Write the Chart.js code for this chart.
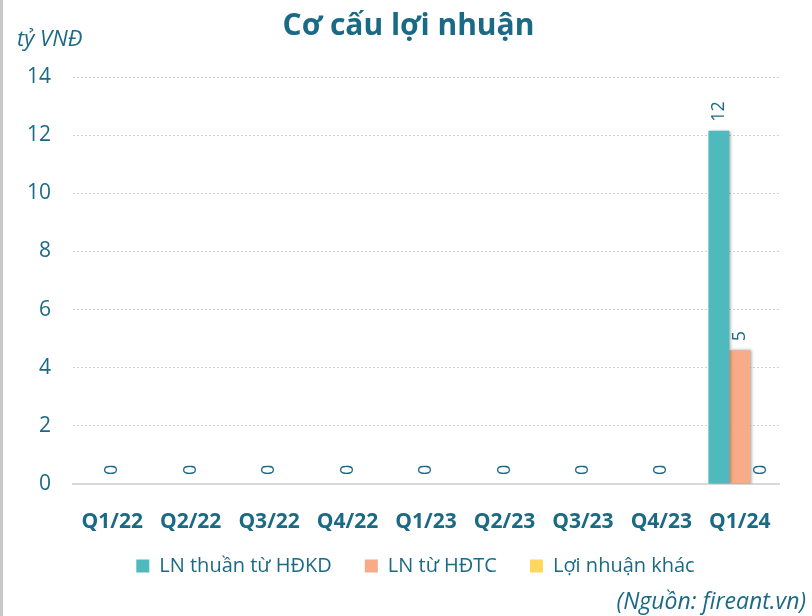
<!DOCTYPE html>
<html><head><meta charset="utf-8">
<script src="https://cdn.jsdelivr.net/npm/chart.js@4/dist/chart.umd.min.js"></script>
<style>
html,body{margin:0;padding:0;background:#fff;}
#wrap{position:relative;width:812px;height:616px;overflow:hidden;}
#wrap:before{content:"";position:absolute;left:0;top:0;width:3px;height:616px;background:#c8c8c8;}
#unit{position:absolute;left:17px;top:23px;font:italic 22px "Open Sans",sans-serif;color:#1b6a85;line-height:1.35;}
#src{position:absolute;right:6px;top:585px;font:italic 23px "Open Sans",sans-serif;color:#1b6a85;line-height:1.35;}
</style></head>
<body><div id="wrap"><canvas id="c" width="812" height="616"></canvas>
<div id="unit">tỷ VNĐ</div><div id="src">(Nguồn: fireant.vn)</div></div>
<script>
const categories = ["Q1/22","Q2/22","Q3/22","Q4/22","Q1/23","Q2/23","Q3/23","Q4/23","Q1/24"];
const lnHDKD = [0,0,0,0,0,0,0,0,12.15];
const lnHDTC = [0,0,0,0,0,0,0,0,4.6];
const lnKhac = [0,0,0,0,0,0,0,0,0];
const yTicks = [0,2,4,6,8,10,12,14];
const TXT = "#1b6a85";
const FONT = "'Open Sans', sans-serif";

const shadowPlugin = {
  id:'shadow',
  beforeDatasetsDraw(chart){const c=chart.ctx;c.save();c.shadowColor='rgba(0,0,0,0.35)';c.shadowOffsetX=2;c.shadowOffsetY=0;c.shadowBlur=3;},
  afterDatasetsDraw(chart){chart.ctx.restore();}
};
const boxShift = {
  id:'boxShift',
  afterLayout(chart){
    const L=chart.legend; if(L){L.left+=26;L.right+=26;L.top-=8;L.bottom-=8;}
    const T=chart.titleBlock; if(T){T.left+=19;T.right+=19;}
  }
};
const labelPlugin = {
  id:'vlabels',
  afterDatasetsDraw(chart){
    const c=chart.ctx; const ds=chart.data.datasets;
    c.save(); c.fillStyle=TXT; c.font="18px "+FONT; c.textAlign='left'; c.textBaseline='middle';
    for(let i=0;i<chart.data.labels.length;i++){
      const allZero = ds.every(d=>d.data[i]===0);
      ds.forEach((d,k)=>{
        const v=d.data[i];
        if(allZero && k!==1) return;
        const el=chart.getDatasetMeta(k).data[i];
        c.save(); c.translate(el.x, el.y-9); c.rotate(-Math.PI/2);
        c.fillText(String(Math.round(v)),0,0); c.restore();
      });
    }
    c.restore();
  }
};

function draw(){
new Chart(document.getElementById('c'),{
  type:'bar',
  data:{labels:categories,datasets:[
    {label:'LN thuần từ HĐKD',data:lnHDKD,backgroundColor:'#4fbabd'},
    {label:'LN từ HĐTC',data:lnHDTC,backgroundColor:'#f7ab86'},
    {label:'Lợi nhuận khác',data:lnKhac,backgroundColor:'#ffd75e'}
  ]},
  plugins:[shadowPlugin,labelPlugin,boxShift],
  options:{
    responsive:false,animation:false,
    layout:{padding:{left:0,right:33,top:0,bottom:22}},
    datasets:{bar:{categoryPercentage:0.8,barPercentage:1.0}},
    plugins:{
      title:{display:true,text:'Cơ cấu lợi nhuận',color:TXT,font:{family:FONT,size:30,weight:'bold'},padding:{top:8,bottom:33}},
      legend:{position:'bottom',labels:{color:TXT,font:{family:FONT,size:20},boxWidth:13,boxHeight:13,padding:33},align:'center'},
      tooltip:{enabled:false}
    },
    scales:{
      x:{grid:{display:false},border:{color:'#d9d9d9',width:2},afterFit(s){s.height=47;},
        ticks:{color:TXT,font:{family:FONT,size:21,weight:'bold'},padding:17}},
      y:{min:0,max:14,afterFit(s){s.width=73;},
        afterBuildTicks(s){s.ticks=yTicks.map(v=>({value:v}));},
        grid:{color:'#d0d0d0',lineWidth:1,drawTicks:false},border:{display:false,dash:[2,2]},
        ticks:{color:TXT,font:{family:FONT,size:21},padding:22}}
    }
  }
});
}
Promise.all([
  document.fonts.load("bold 30px 'Open Sans'"),
  document.fonts.load("20px 'Open Sans'"),
  document.fonts.load("bold 21px 'Open Sans'")
]).then(draw,draw);
</script></body></html>
